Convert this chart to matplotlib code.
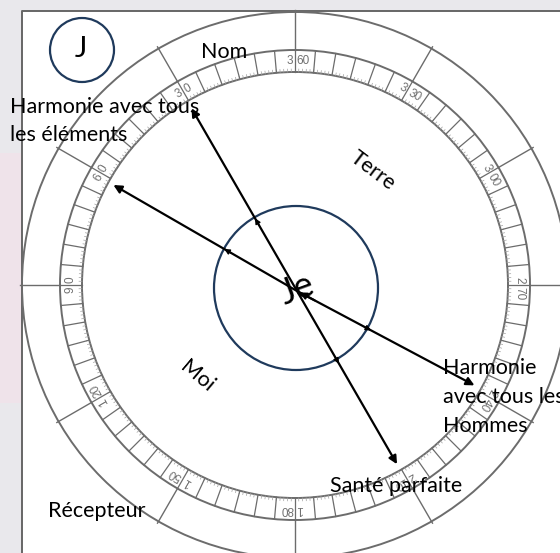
import numpy as np
import matplotlib.pyplot as plt
from matplotlib.patches import Circle, Rectangle, FancyArrowPatch

# degrees printed on the dial (counter-clockwise from the top)
label_degrees = [30, 60, 90, 120, 150, 180, 210, 240, 270, 300, 330, 360]
cell_step = 5        # band divided every 5 degrees
minor_step = 1       # tiny ticks every degree
sector_step = 30     # spokes in the outer ring

# arrows leaving "Je": direction on the dial and length (px)
arrow_degrees = [60, 30, 242, 210]
arrow_lengths = [212, 211, 201, 200]

labels_left = ["Harmonie avec tous", "les éléments"]
labels_right = ["Harmonie", "avec tous les", "Hommes"]

GREY = "#6c6c6c"
NAVY = "#1f3a5c"
FONT = ["Lato", "DejaVu Sans"]

H = 553
DIAL_C = (295, H - 285)
ARROW_C = (297, H - 291)
R_OUTER, R_BAND_OUT, R_BAND_IN = 273, 235, 213


def polar(d, r, c=DIAL_C):
    a = np.radians(d)
    return c[0] - r * np.sin(a), c[1] + r * np.cos(a)


fig = plt.figure(figsize=(5.6, 5.53), dpi=100, facecolor="#e9e8ec")
ax = fig.add_axes([0, 0, 1, 1])
ax.set_xlim(0, 560)
ax.set_ylim(0, H)
ax.axis("off")

# paper + frame
ax.add_patch(Rectangle((0, 150), 22, 250, color="#efe3ea", lw=0, zorder=0))
ax.add_patch(Rectangle((22, 0), 560, H - 11, color="white", lw=0, zorder=0))
ax.plot([22, 22, 560], [0, H - 11, H - 11], color="#666666", lw=1.4, zorder=1)

# dial circles
for r in (R_OUTER, R_BAND_OUT, R_BAND_IN):
    ax.add_patch(Circle(DIAL_C, r, fill=False, ec=GREY, lw=1.4, zorder=1))

for d in range(0, 360, minor_step):
    (x0, y0), (x1, y1) = polar(d, R_BAND_IN), polar(d, R_BAND_IN + 3)
    ax.plot([x0, x1], [y0, y1], color="#a0a0a0", lw=0.5, zorder=1)
for d in range(0, 360, cell_step):
    (x0, y0), (x1, y1) = polar(d, R_BAND_IN), polar(d, R_BAND_OUT)
    ax.plot([x0, x1], [y0, y1], color=GREY, lw=0.9, zorder=1)
for d in range(0, 360, sector_step):
    (x0, y0), (x1, y1) = polar(d, R_BAND_OUT), polar(d, R_OUTER + 2)
    ax.plot([x0, x1], [y0, y1], color=GREY, lw=1.0, zorder=1)

# numbers split by their radial line
r_lab = (R_BAND_IN + R_BAND_OUT) / 2
for d in label_degrees:
    s = str(d)
    px, py = polar(d, r_lab)
    ux, uy = np.cos(np.radians(d)), np.sin(np.radians(d))
    g = 1.8
    kw = dict(rotation=d, rotation_mode="anchor", va="center", fontsize=8.5,
              color="#707070", family=["Liberation Sans Narrow", "Liberation Sans", "DejaVu Sans"],
              zorder=2)
    ax.text(px - g * ux, py - g * uy, s[0], ha="right", **kw)
    ax.text(px + g * ux, py + g * uy, s[1:], ha="left", **kw)

# inner circle
ax.add_patch(Circle((296, H - 288), 82, fill=False, ec=NAVY, lw=1.6, zorder=3))

# arrows
for d, L in zip(arrow_degrees, arrow_lengths):
    tip = polar(d, L, ARROW_C)
    ax.add_patch(FancyArrowPatch(ARROW_C, tip, arrowstyle="-|>", mutation_scale=12,
                                 lw=1.6, color="black", shrinkA=0, shrinkB=0, zorder=4))
    ax.add_patch(FancyArrowPatch(polar(d, 76, ARROW_C), polar(d, 84, ARROW_C),
                                 arrowstyle="-|>", mutation_scale=8, lw=1,
                                 color="black", shrinkA=0, shrinkB=0, zorder=4))
ax.add_patch(FancyArrowPatch(polar(242, 20, ARROW_C), polar(242, 3, ARROW_C),
                             arrowstyle="-|>", mutation_scale=10, lw=1.5,
                             color="black", shrinkA=0, shrinkB=0, zorder=4))

ax.text(ARROW_C[0], ARROW_C[1] + 2, "Je", fontsize=26, rotation=20, ha="center",
        va="center", family=FONT, zorder=5)

# J badge
ax.add_patch(Circle((82, H - 50), 32, fill=False, ec=NAVY, lw=1.6, zorder=3))
ax.text(81, H - 49, "J", fontsize=21, ha="center", va="center", family=FONT)

txt = dict(fontsize=15.5, family=FONT, va="center", zorder=5)
ax.text(224, H - 52, "Nom", ha="center", **txt)
ax.text(373, H - 171, "Terre", ha="center", rotation=-37, **txt)
ax.text(197, H - 376, "Moi", ha="center", rotation=-40, **txt)
for i, s in enumerate(labels_left):
    ax.text(10, H - 107 - 28 * i, s, ha="left", **txt)
for i, s in enumerate(labels_right):
    ax.text(443, H - 368 - 29 * i, s, ha="left", **txt)
ax.text(330, H - 486, "Santé parfaite", ha="left", **txt)
ax.text(48, H - 511, "Récepteur", ha="left", **txt)

fig.savefig("out.png", dpi=100, facecolor=fig.get_facecolor())
